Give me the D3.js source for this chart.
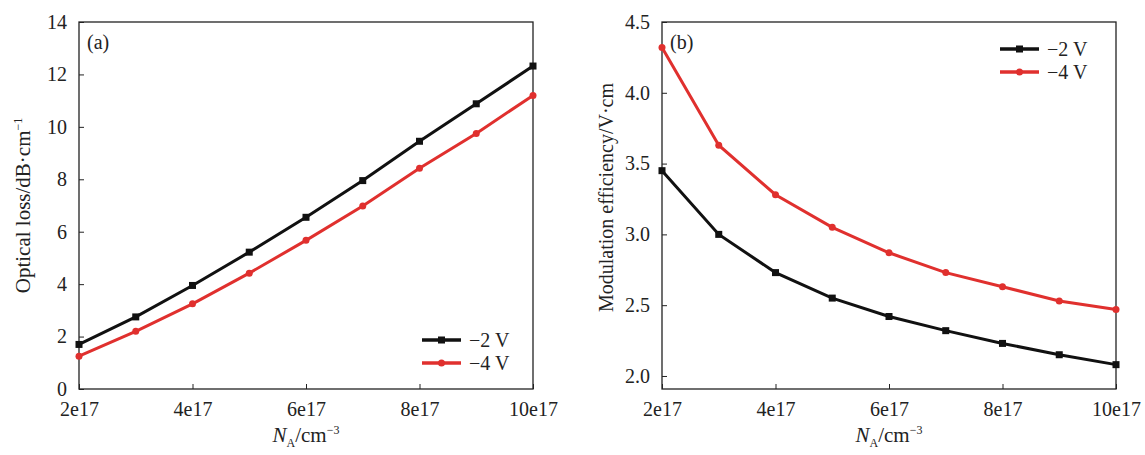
<!DOCTYPE html>
<html>
<head>
<meta charset="utf-8">
<script src="https://cdn.jsdelivr.net/npm/d3@7"></script>
<style>
  body { margin: 0; background: #fff; }
  svg { font-family: "Liberation Serif", "DejaVu Serif", serif; }
</style>
</head>
<body>
<div id="chart"></div>
<script>
// Data
const dopings = [2, 3, 4, 5, 6, 7, 8, 9, 10];          // N_A in units of 1e17
const lossMinus2 = [1.7, 2.75, 3.95, 5.22, 6.55, 7.95, 9.45, 10.88, 12.32];
const lossMinus4 = [1.25, 2.2, 3.25, 4.42, 5.67, 6.98, 8.42, 9.75, 11.2];
const effMinus2 = [3.45, 3.0, 2.73, 2.55, 2.42, 2.32, 2.23, 2.15, 2.08];
const effMinus4 = [4.32, 3.63, 3.28, 3.05, 2.87, 2.73, 2.63, 2.53, 2.47];
const xTicks = [2, 4, 6, 8, 10];
const lossTicks = [0, 2, 4, 6, 8, 10, 12, 14];
const effTicks = [2.0, 2.5, 3.0, 3.5, 4.0, 4.5];
const seriesNames = ["\u22122 V", "\u22124 V"];
const seriesColors = ["#111111", "#e0302e"];

// SVG container
const width = 1145;
const height = 455;
const svg = d3.select("#chart")
  .append("svg")
  .attr("width", width)
  .attr("height", height);

// Draw one panel
function drawPanel(opt) {
  const g = svg.append("g");
  const xScale = d3.scaleLinear().domain([2, 10]).range([opt.left, opt.right]);
  const yScale = d3.scaleLinear().domain(opt.yDomain).range([opt.bottom, opt.top]);

  // Frame
  g.append("rect")
    .attr("x", opt.left).attr("y", opt.top)
    .attr("width", opt.right - opt.left).attr("height", opt.bottom - opt.top)
    .attr("fill", "none").attr("stroke", "#222").attr("stroke-width", 1.3);

  // X axis (ticks pointing inward)
  const xAxis = g.append("g")
    .attr("transform", "translate(0," + opt.bottom + ")")
    .call(d3.axisBottom(xScale).tickValues(xTicks).tickSize(-5).tickPadding(13)
      .tickFormat(d => d + "e17"));
  xAxis.select(".domain").remove();
  xAxis.selectAll("line").attr("stroke", "#222");
  xAxis.selectAll("text").attr("font-size", 20).attr("fill", "#222")
    .attr("font-family", "Liberation Serif");

  // Y axis
  const yAxis = g.append("g")
    .attr("transform", "translate(" + opt.left + ",0)")
    .call(d3.axisLeft(yScale).tickValues(opt.yTicks).tickSize(-5).tickPadding(12)
      .tickFormat(opt.yFormat));
  yAxis.select(".domain").remove();
  yAxis.selectAll("line").attr("stroke", "#222");
  yAxis.selectAll("text").attr("font-size", 20).attr("fill", "#222")
    .attr("font-family", "Liberation Serif");

  // X axis label: N_A/cm^-3
  const xl = g.append("text")
    .attr("x", (opt.left + opt.right) / 2).attr("y", opt.bottom + 53)
    .attr("text-anchor", "middle").attr("font-size", 21).attr("fill", "#222");
  xl.append("tspan").attr("font-style", "italic").text("N");
  xl.append("tspan").attr("font-size", 12).attr("dy", 5).text("A");
  xl.append("tspan").attr("dy", -5).text("/cm");
  xl.append("tspan").attr("font-size", 12).attr("dy", -8).text("\u22123");

  // Y axis label
  const yl = g.append("text")
    .attr("transform", "translate(" + (opt.left - 49) + "," + ((opt.top + opt.bottom) / 2 + opt.yLabelShift) + ") rotate(-90)")
    .attr("text-anchor", "middle").attr("font-size", opt.yLabelSize).attr("fill", "#222");
  yl.append("tspan").text(opt.yLabel);
  if (opt.yLabelSup) {
    yl.append("tspan").attr("font-size", 12).attr("dy", -8).text(opt.yLabelSup);
  }

  // Panel tag
  g.append("text")
    .attr("x", opt.left + 8).attr("y", opt.top + 27)
    .attr("font-size", 20).attr("fill", "#222").text(opt.tag);

  // Lines and markers
  const line = d3.line()
    .x((d, i) => xScale(dopings[i]))
    .y(d => yScale(d));

  opt.series.forEach(function(values, k) {
    g.append("path")
      .datum(values)
      .attr("d", line)
      .attr("fill", "none")
      .attr("stroke", seriesColors[k])
      .attr("stroke-width", 3);
    if (k === 0) {
      g.selectAll(null)
        .data(values).enter().append("rect")
        .attr("x", (d, i) => xScale(dopings[i]) - 3.5)
        .attr("y", d => yScale(d) - 3.5)
        .attr("width", 7).attr("height", 7)
        .attr("fill", seriesColors[k]);
    } else {
      g.selectAll(null)
        .data(values).enter().append("circle")
        .attr("cx", (d, i) => xScale(dopings[i]))
        .attr("cy", d => yScale(d))
        .attr("r", 3.5)
        .attr("fill", seriesColors[k]);
    }
  });

  // Legend
  seriesNames.forEach(function(name, k) {
    const ly = opt.legendY + k * 23;
    g.append("line")
      .attr("x1", opt.legendX).attr("x2", opt.legendX + 39)
      .attr("y1", ly).attr("y2", ly)
      .attr("stroke", seriesColors[k]).attr("stroke-width", 3.5);
    if (k === 0) {
      g.append("rect").attr("x", opt.legendX + 16).attr("y", ly - 3.5)
        .attr("width", 7).attr("height", 7).attr("fill", seriesColors[k]);
    } else {
      g.append("circle").attr("cx", opt.legendX + 19.5).attr("cy", ly)
        .attr("r", 3.5).attr("fill", seriesColors[k]);
    }
    g.append("text")
      .attr("x", opt.legendX + 47).attr("y", ly + 7)
      .attr("font-size", 20).attr("fill", "#222").text(name);
  });
}

drawPanel({
  left: 79, right: 533, top: 22, bottom: 389,
  yDomain: [0, 14], yTicks: lossTicks, yFormat: d => d,
  yLabel: "Optical loss/dB\u00b7cm", yLabelSup: "\u22121",
  yLabelSize: 21, yLabelShift: 0,
  tag: "(a)", series: [lossMinus2, lossMinus4],
  legendX: 422, legendY: 340
});

drawPanel({
  left: 662, right: 1116, top: 22, bottom: 389,
  yDomain: [1.908, 4.5], yTicks: effTicks, yFormat: d3.format(".1f"),
  yLabel: "Modulation efficiency/V\u00b7cm", yLabelSup: null,
  yLabelSize: 20, yLabelShift: -8,
  tag: "(b)", series: [effMinus2, effMinus4],
  legendX: 1000, legendY: 49
});
</script>
</body>
</html>
